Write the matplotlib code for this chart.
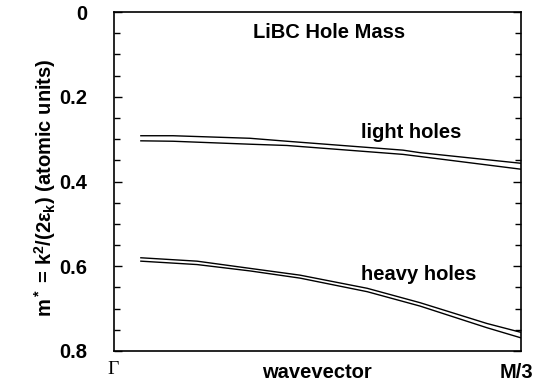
import matplotlib
matplotlib.use("Agg")
import matplotlib.pyplot as plt
import numpy as np
from matplotlib.ticker import MultipleLocator

plt.rcParams['font.family'] = ['Liberation Sans', 'DejaVu Sans']
plt.rcParams['mathtext.fontset'] = 'custom'
plt.rcParams['mathtext.rm'] = 'Liberation Sans:bold'
plt.rcParams['mathtext.it'] = 'Liberation Sans:bold'
plt.rcParams['mathtext.bf'] = 'Liberation Sans:bold'

# wavevector as fraction of Gamma -> M/3
light_k = [0.066, 0.145, 0.334, 0.425, 0.710, 0.752, 1.0]
light_upper = [0.292, 0.292, 0.298, 0.305, 0.326, 0.332, 0.357]
light_lower = [0.304, 0.305, 0.312, 0.315, 0.336, 0.341, 0.371]

heavy_k = [0.066, 0.204, 0.334, 0.457, 0.622, 0.752, 0.916, 1.0]
heavy_upper = [0.580, 0.588, 0.605, 0.621, 0.652, 0.686, 0.735, 0.756]
heavy_lower = [0.588, 0.596, 0.611, 0.628, 0.660, 0.694, 0.745, 0.769]

yticks = [0, 0.2, 0.4, 0.6, 0.8]
yticklabels = ['0', '0.2', '0.4', '0.6', '0.8']

FS = 14.5

fig = plt.figure(figsize=(5.51, 3.82), dpi=100)
ax = fig.add_axes([114/551, 31/382, 407/551, 339/382])

for k, ys in [(light_k, light_upper), (light_k, light_lower),
              (heavy_k, heavy_upper), (heavy_k, heavy_lower)]:
    ax.plot(k, ys, color='black', lw=1.0)

ax.set_xlim(0, 1)
ax.set_ylim(0.8, 0)
ax.set_yticks(yticks)
ax.set_yticklabels(yticklabels, fontweight='bold', fontsize=FS)
ax.yaxis.set_minor_locator(MultipleLocator(0.05))
ax.tick_params(axis='y', which='major', direction='in', length=6, width=1, right=True, pad=19)
ax.tick_params(axis='y', which='minor', direction='in', length=4, width=1, right=True)
ax.set_xticks([])
for s in ax.spines.values():
    s.set_linewidth(1.2)

fig.text(45/551, 1 - 188/382, r'm$^*$ = k$^2$/(2$\epsilon_k$) (atomic units)',
         rotation=90, ha='center', va='center', fontweight='bold', fontsize=FS)

fig.text(317/551, 1 - 372/382, 'wavevector', ha='center', va='center', fontweight='bold', fontsize=FS)
fig.text(113/551, 1 - 369/382, '\u0393', ha='center', va='center', fontsize=14, family='Liberation Serif')
fig.text(516/551, 1 - 372/382, 'M/3', ha='center', va='center', fontweight='bold', fontsize=FS)

fig.text(329/551, 1 - 33/382, 'LiBC Hole Mass', ha='center', va='center', fontweight='bold', fontsize=FS)
fig.text(411/551, 1 - 133/382, 'light holes', ha='center', va='center', fontweight='bold', fontsize=FS)
fig.text(419/551, 1 - 274/382, 'heavy holes', ha='center', va='center', fontweight='bold', fontsize=FS)

fig.savefig('out.png', dpi=100)
